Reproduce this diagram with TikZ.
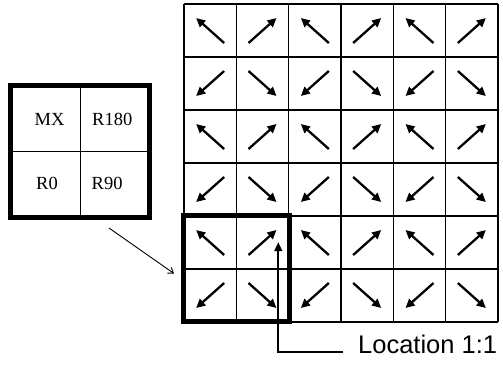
\documentclass[tikz,border=0pt]{standalone}
\usepackage{fontspec}
\setmainfont{Liberation Serif}
\newfontfamily\arialfont{Liberation Sans}
\usetikzlibrary{arrows.meta,calc}
\begin{document}
\begin{tikzpicture}[x=1pt,y=-1pt,
  gridline/.style={line width=1.2pt,draw=black},
  cellarrow/.style={line width=2.3pt,-{Triangle[length=9pt,width=8.5pt]}},
  thickbox/.style={draw,line width=5pt},
  legendtext/.style={font=\fontsize{18.5}{20}\selectfont,inner sep=0pt,anchor=base west},
  pointer/.style={line width=0.9pt,-{Straight Barb[length=5pt,width=7pt]}},
  leader/.style={line width=2.2pt,-{Triangle[length=9pt,width=7.5pt]}}]
\useasboundingbox (0,0) rectangle (503,370);
% grid
\foreach \i in {0,...,6} {
  \draw[gridline] ({184+\i*52.333},4) -- ({184+\i*52.333},322);
  \draw[gridline] (184,{4+\i*53}) -- (498,{4+\i*53});
}
% arrows
\foreach \i in {0,...,5} {
  \foreach \j in {0,...,5} {
    \pgfmathsetmacro{\cx}{184+(\i+0.5)*52.333}
    \pgfmathsetmacro{\cy}{4+(\j+0.5)*53}
    \pgfmathsetmacro{\sx}{ifthenelse(mod(\i,2)==0,1,-1)}
    \pgfmathsetmacro{\sy}{ifthenelse(mod(\j,2)==0,1,-1)}
    \coordinate (t\i\j) at ({\cx+\sx*14},{\cy+\sy*12.5});
    \coordinate (h\i\j) at ({\cx-\sx*14},{\cy-\sy*12.5});
    \draw[cellarrow] (t\i\j) -- (h\i\j);
  }
}
% thick box around bottom-left 2x2
\node[thickbox,minimum width=106pt,minimum height=106pt,inner sep=0pt] (sel) at (236,268) {};
% legend box
\node[thickbox,minimum width=138.2pt,minimum height=132.5pt,inner sep=0pt] (legend) at (79.9,151.25) {};
\draw[line width=1pt] (80,85) -- (80,217.5);
\draw[line width=1pt] (12,151) -- (147.5,151);
\node[legendtext] (mx) at (34.5,125) {MX};
\node[legendtext] (r180) at (92,125) {R180};
\node[legendtext] (r0) at (36,189) {R0};
\node[legendtext] (r90) at (91.5,189) {R90};
% pointer from legend to selected box
\coordinate (pstart) at (109,228);
\coordinate (pend) at (174,273.5);
\draw[pointer] (pstart) -- (pend);
% location label
\node[font=\arialfont\fontsize{25.5}{28}\selectfont,inner sep=0pt,anchor=base west] (loc) at (358,353) {Location 1:1};
\coordinate (lcorner) at (278.3,352);
\coordinate (ltip) at (278.3,242);
\draw[leader] ($(loc.base west)+(-15,-1)$) -- (lcorner) -- (ltip);
\end{tikzpicture}
\end{document}
